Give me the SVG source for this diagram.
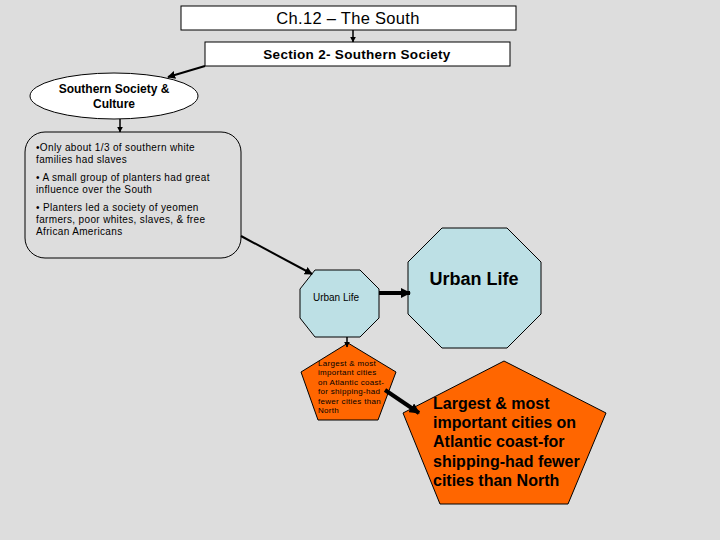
<svg xmlns="http://www.w3.org/2000/svg" width="720" height="540" viewBox="0 0 720 540">
<style>
text{font-family:"Liberation Sans",Arial,sans-serif;fill:#000}
.box{fill:#fff;stroke:#000;stroke-width:1}
.blue{fill:#bde0e5;stroke:#000;stroke-width:1}
.orange{fill:#ff6600;stroke:#000;stroke-width:1}
.ln{stroke:#000;fill:none}
</style>
<defs>
<marker id="ah" viewBox="0 0 10 10" refX="9" refY="5" markerWidth="4" markerHeight="4" orient="auto" markerUnits="strokeWidth">
<path d="M0,0L10,5L0,10z" fill="#000"/>
</marker>
<marker id="ah2" viewBox="0 0 10 10" refX="9" refY="5" markerWidth="2.6" markerHeight="2.6" orient="auto" markerUnits="strokeWidth">
<path d="M0,0L10,5L0,10z" fill="#000"/>
</marker>
</defs>
<rect width="720" height="540" fill="#dddddd"/>
<g id="title">
<rect class="box" x="181" y="6" width="335" height="24"/>
<text x="348" y="24" font-size="16.5" text-anchor="middle" letter-spacing="0.3">Ch.12 – The South</text>
</g>
<g id="section">
<rect class="box" x="205" y="42" width="305" height="24"/>
<text x="357" y="59" font-size="13.5" text-anchor="middle" font-weight="bold" letter-spacing="0.3">Section 2- Southern Society</text>
</g>
<g id="society">
<ellipse class="box" cx="114" cy="96" rx="84" ry="23"/>
<text x="114" y="93" font-size="12" text-anchor="middle" font-weight="bold">Southern Society &amp;</text>
<text x="114" y="108" font-size="12" text-anchor="middle" font-weight="bold">Culture</text>
</g>
<g id="facts">
<rect x="25" y="132" width="216" height="126" rx="20" ry="20" fill="#dddddd" stroke="#000"/>
<text font-size="10" letter-spacing="0.35">
<tspan x="36" y="151">•Only about 1/3 of southern white</tspan>
<tspan x="36" y="163">families had slaves</tspan>
<tspan x="36" y="181">• A small group of planters had great</tspan>
<tspan x="36" y="193">influence over the South</tspan>
<tspan x="36" y="211">• Planters led a society of yeomen</tspan>
<tspan x="36" y="223">farmers, poor whites, slaves, &amp; free</tspan>
<tspan x="36" y="235">African Americans</tspan>
</text>
</g>
<g id="urban-small">
<polygon class="blue" points="315,270 360,270 379,289 379,318 360,337 315,337 300,318 300,289"/>
<text x="336" y="301" font-size="10" text-anchor="middle">Urban Life</text>
</g>
<g id="urban-big">
<polygon class="blue" points="442,228 507,228 541,262 541,314 507,348 442,348 408,314 408,262"/>
<text x="474" y="285" font-size="18" text-anchor="middle" font-weight="bold">Urban Life</text>
</g>
<g id="cities-small">
<polygon class="orange" points="348,343 396,372 378,420 318,420 301,372"/>
<text font-size="8" letter-spacing="0.3">
<tspan x="318" y="366">Largest &amp; most</tspan>
<tspan x="318" y="375">important cities</tspan>
<tspan x="318" y="385">on Atlantic coast-</tspan>
<tspan x="318" y="394">for shipping-had</tspan>
<tspan x="318" y="404">fewer cities than</tspan>
<tspan x="318" y="413">North</tspan>
</text>
</g>
<g id="cities-big">
<polygon class="orange" points="504,361 606,413 568,504 440,504 403,413"/>
<text font-size="16" font-weight="bold">
<tspan x="433" y="409">Largest &amp; most</tspan>
<tspan x="433" y="428">important cities on</tspan>
<tspan x="433" y="447">Atlantic coast-for</tspan>
<tspan x="433" y="467">shipping-had fewer</tspan>
<tspan x="433" y="486">cities than North</tspan>
</text>
</g>
<g id="connectors">
<line class="ln" x1="353" y1="30" x2="353" y2="42" stroke-width="1.5" marker-end="url(#ah)"/>
<line class="ln" x1="205" y1="66" x2="168" y2="77" stroke-width="2" marker-end="url(#ah)"/>
<line class="ln" x1="120" y1="119" x2="120" y2="132" stroke-width="1.5" marker-end="url(#ah)"/>
<line class="ln" x1="241" y1="236" x2="312" y2="274" stroke-width="2" marker-end="url(#ah)"/>
<line class="ln" x1="379" y1="293" x2="410" y2="293" stroke-width="4" marker-end="url(#ah2)"/>
<line class="ln" x1="347" y1="337" x2="347" y2="347" stroke-width="1.5" marker-end="url(#ah)"/>
<line class="ln" x1="385" y1="390" x2="419" y2="413" stroke-width="4" marker-end="url(#ah2)"/>
</g>
</svg>
